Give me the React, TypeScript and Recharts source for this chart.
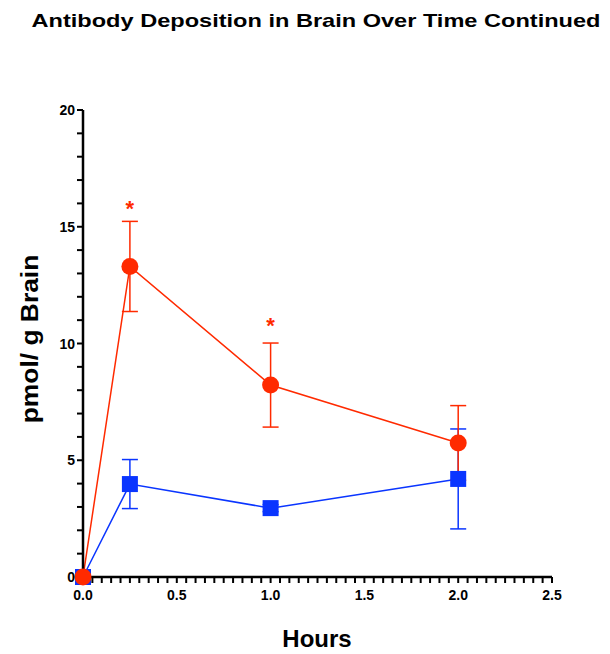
import {
  ComposedChart,
  Line,
  ErrorBar,
  Scatter,
  XAxis,
  YAxis,
} from "recharts";

// hours after dosing
const hours = [0, 0.25, 1, 2];

// red group (circles)
const redMean = [0, 13.3, 8.22, 5.74];
const redErr = [0, 1.93, 1.8, 1.6];

// blue group (squares)
const blueMean = [0, 3.98, 2.95, 4.2];
const blueErr = [0, 1.05, 0.15, 2.14];

// significance markers drawn above the red points
const starHours = [0.25, 1];
const starLevel = [16, 11];

const xMajor = [0, 0.5, 1, 1.5, 2, 2.5];
const yMajor = [0, 5, 10, 15, 20];

const RED = "#ff2a00";
const BLUE = "#0a35ff";
const font = "Liberation Sans, Arial, sans-serif";

// plot frame
const W = 610;
const H = 654;
const LEFT = 83;
const TOP = 110;
const RIGHT = 58;
const BOTTOM = 77;
const AXIS_X = LEFT;
const AXIS_Y = H - BOTTOM;

const redData = hours.map((h, i) => ({ h, v: redMean[i], e: redErr[i] }));
const blueData = hours.map((h, i) => ({ h, v: blueMean[i], e: blueErr[i] }));
const starData = starHours.map((h, i) => ({ h, v: starLevel[i] }));

const xTicks: number[] = [];
for (let i = 0; i <= 50; i++) xTicks.push(+(i * 0.05).toFixed(2));
const yTicks: number[] = [];
for (let i = 0; i <= 20; i++) yTicks.push(i);

const isMajor = (v: number, majors: number[]) =>
  majors.some((m) => Math.abs(m - v) < 1e-6);

const XTick = (props: any) => {
  const { x, payload } = props;
  if (!isMajor(payload.value, xMajor)) return <g />;
  return (
    <text
      x={x}
      y={AXIS_Y + 23}
      textAnchor="middle"
      fontSize={14}
      fontWeight="bold"
      fontFamily={font}
      fill="#000"
    >
      {payload.value.toFixed(1)}
    </text>
  );
};

const YTick = (props: any) => {
  const { y, payload } = props;
  if (!isMajor(payload.value, yMajor)) return <g />;
  return (
    <text
      x={AXIS_X - 8}
      y={y + 5}
      textAnchor="end"
      fontSize={14}
      fontWeight="bold"
      fontFamily={font}
      fill="#000"
    >
      {payload.value}
    </text>
  );
};

const Square = (props: any) => {
  const { cx, cy } = props;
  if (cx == null || cy == null) return null;
  return <rect x={cx - 8} y={cy - 8} width={16} height={16} fill={BLUE} />;
};

const Circle = (props: any) => {
  const { cx, cy } = props;
  if (cx == null || cy == null) return null;
  return <circle cx={cx} cy={cy} r={8.5} fill={RED} />;
};

const Star = (props: any) => {
  const { cx, cy } = props;
  return (
    <text
      x={cx}
      y={cy + 13}
      textAnchor="middle"
      fontSize={22}
      fontWeight="bold"
      fontFamily={font}
      fill={RED}
    >
      *
    </text>
  );
};

export default function App() {
  return (
    <div style={{ position: "absolute", left: 0, top: 0, width: W, height: H, background: "#fff" }}>
      <div
        style={{
          position: "absolute",
          left: 316,
          top: 21,
          transform: "translate(-50%, -50%) scaleX(1.24)",
          whiteSpace: "nowrap",
          fontFamily: font,
          fontWeight: "bold",
          fontSize: 19,
          color: "#000",
        }}
      >
        Antibody Deposition in Brain Over Time Continued
      </div>
      <ComposedChart
        width={W}
        height={H}
        margin={{ top: TOP, right: RIGHT, left: 0, bottom: 0 }}
      >
        <XAxis
          type="number"
          dataKey="h"
          domain={[0, 2.5]}
          ticks={xTicks}
          interval={0}
          height={BOTTOM}
          tickSize={6}
          axisLine={{ stroke: "#000", strokeWidth: 2.5 }}
          tickLine={{ stroke: "#000", strokeWidth: 2 }}
          tick={<XTick />}
        />
        <YAxis
          type="number"
          domain={[0, 20]}
          ticks={yTicks}
          interval={0}
          width={LEFT}
          tickSize={6}
          axisLine={{ stroke: "#000", strokeWidth: 2.5 }}
          tickLine={{ stroke: "#000", strokeWidth: 2 }}
          tick={<YTick />}
        />
        <Line
          data={blueData}
          dataKey="v"
          stroke={BLUE}
          strokeWidth={1.5}
          dot={<Square />}
          activeDot={false}
          isAnimationActive={false}
        >
          <ErrorBar dataKey="e" direction="y" width={8} stroke={BLUE} strokeWidth={1.5} />
        </Line>
        <Line
          data={redData}
          dataKey="v"
          stroke={RED}
          strokeWidth={1.5}
          dot={<Circle />}
          activeDot={false}
          isAnimationActive={false}
        >
          <ErrorBar dataKey="e" direction="y" width={8} stroke={RED} strokeWidth={1.5} />
        </Line>
        <Scatter data={starData} dataKey="v" shape={<Star />} isAnimationActive={false} />
      </ComposedChart>
      <div
        style={{
          position: "absolute",
          left: 30,
          top: 339,
          transform: "translate(-50%, -50%) rotate(-90deg) scaleX(1.1)",
          whiteSpace: "nowrap",
          fontFamily: font,
          fontWeight: "bold",
          fontSize: 24,
          color: "#000",
        }}
      >
        pmol/ g Brain
      </div>
      <div
        style={{
          position: "absolute",
          left: 317,
          top: 639,
          transform: "translate(-50%, -50%)",
          whiteSpace: "nowrap",
          fontFamily: font,
          fontWeight: "bold",
          fontSize: 24,
          color: "#000",
        }}
      >
        Hours
      </div>
    </div>
  );
}
